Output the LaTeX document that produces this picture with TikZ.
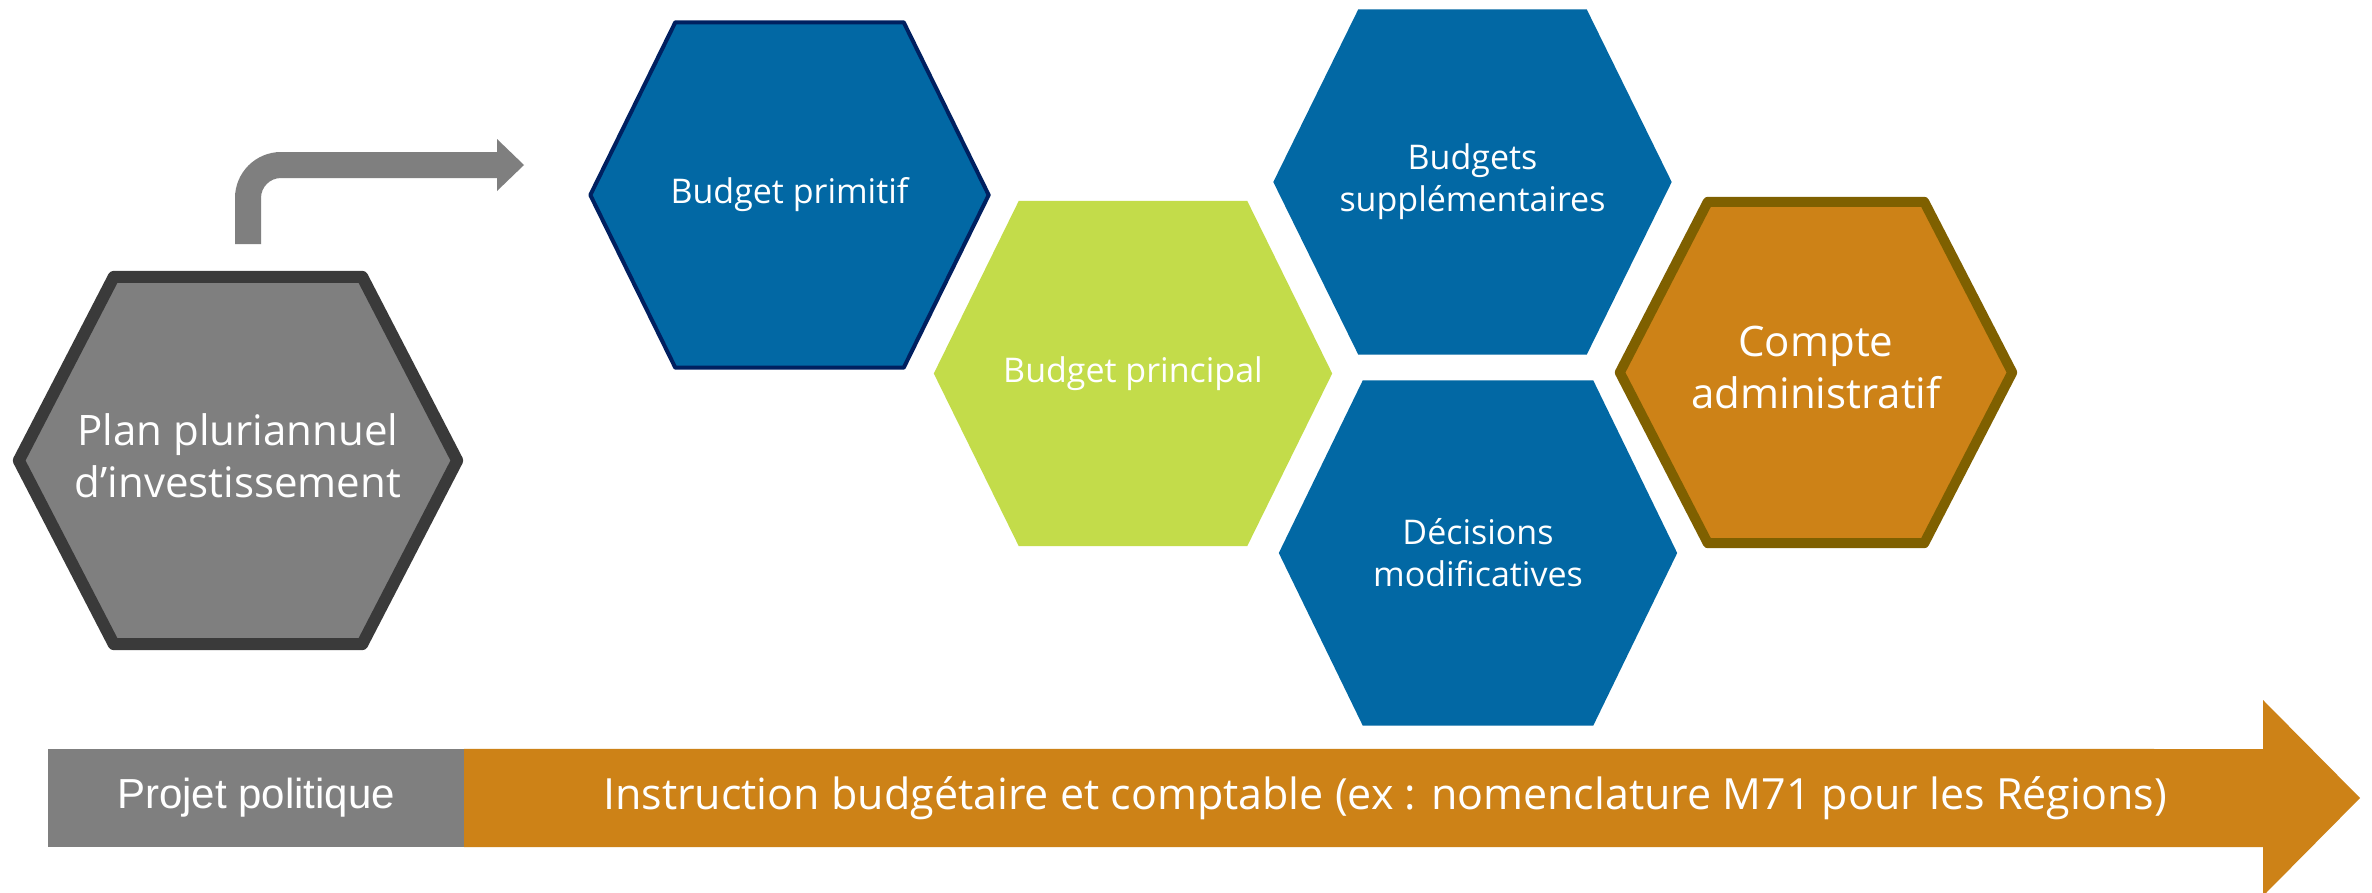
\documentclass[tikz,border=0pt]{standalone}
\usepackage{fontspec}
\setmainfont{Open Sans}
\newfontfamily\arialfont{Liberation Sans}
\usetikzlibrary{backgrounds}
\definecolor{hexgray}{RGB}{127,127,127}
\definecolor{hexgraydark}{RGB}{58,58,58}
\definecolor{hexblue}{RGB}{2,104,164}
\definecolor{hexnavy}{RGB}{0,32,96}
\definecolor{hexgreen}{RGB}{195,220,74}
\definecolor{hexorange}{RGB}{205,130,23}
\definecolor{hexolive}{RGB}{127,96,0}
\newcommand\hexfill[3]{\path[#3] (#1.west) -- ([xshift=#2pt]#1.north west) -- ([xshift=-#2pt]#1.north east) -- (#1.east) -- ([xshift=-#2pt]#1.south east) -- ([xshift=#2pt]#1.south west) -- cycle;}
\begin{document}
\begin{tikzpicture}[x=1pt,y=-1pt,
  hexbox/.style={minimum width=398pt, minimum height=345pt, inner sep=0pt, align=center, text=white, font=\fontsize{34}{42}\selectfont},
  bigtext/.style={font=\fontsize{42}{52}\selectfont, text depth=10pt},
  barbox/.style={inner sep=0pt, text=white}
]
\useasboundingbox (0,0) rectangle (2372,892);

% hexagon nodes (text)
\node[hexbox, bigtext, minimum width=438pt, minimum height=367pt] (ppi) at (238,460.5) {Plan pluriannuel\\d’investissement};
\node[hexbox] (bp) at (789.5,195) {Budget primitif};
\node[hexbox] (bpal) at (1133,373.5) {Budget principal};
\node[hexbox] (bs) at (1472.5,182) {Budgets\\supplémentaires};
\node[hexbox] (dm) at (1478,553) {Décisions\\modificatives};
\node[hexbox, bigtext, minimum width=392pt, minimum height=341pt] (ca) at (1816,372.5) {Compte\\administratif};

% bottom band
\node[barbox, fill=hexgray, minimum width=416pt, minimum height=98pt, font=\arialfont\fontsize{42}{50}\selectfont] (pp) at (256,798) {Projet politique};
\node[barbox, anchor=base, font=\fontsize{43}{52}\selectfont] (ibc) at (1385,809) {Instruction budgétaire et comptable (ex : nomenclature M71 pour les Régions)};

\coordinate (bendstart) at (248,244);
\coordinate (bendend) at (524,165);

\begin{scope}[on background layer]
  \fill[white] (0,0) rectangle (2372,892);
  \hexfill{ppi}{95}{fill=hexgray, draw=hexgraydark, line width=12pt, line join=round}
  \hexfill{bp}{85}{fill=hexblue, draw=hexnavy, line width=4pt, line join=round}
  \hexfill{bpal}{85}{fill=hexgreen}
  \hexfill{bs}{85}{fill=hexblue}
  \hexfill{dm}{84}{fill=hexblue}
  \hexfill{ca}{88}{fill=hexorange, draw=hexolive, line width=10pt, line join=round}
  % bent arrow
  \fill[hexgray] ([xshift=-13pt]bendstart) -- (235,198) arc[start angle=180, end angle=270, radius=46]
     -- (497,152) -- (497,139) -- (bendend) -- (497,191) -- (497,178) -- (281,178)
     arc[start angle=270, end angle=180, radius=20] -- ([xshift=13pt]bendstart) -- cycle;
  % orange arrow
  \fill[hexorange] (pp.north east) -- (2263,749) -- (2263,700) -- (2360,798) -- (2263,896) -- (2263,847) -- (pp.south east) -- cycle;
\end{scope}
\end{tikzpicture}
\end{document}
